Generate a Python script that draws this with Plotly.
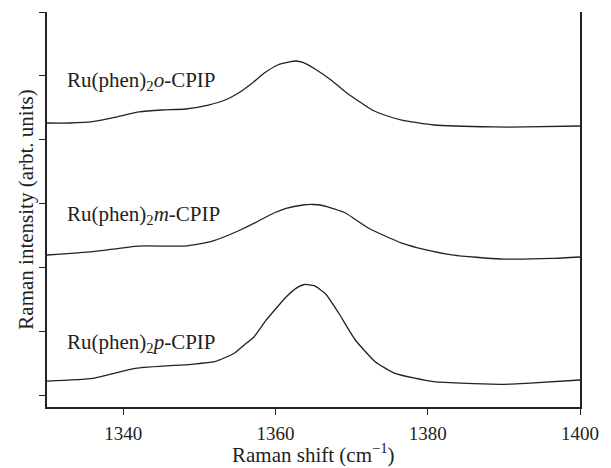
import plotly.graph_objects as go

# Raman shift (cm^-1) and intensities (arbitrary units, stacked)
x_o = [1330.0, 1333.0, 1336.0, 1339.1, 1342.1, 1345.1, 1348.2, 1351.2, 1353.4, 1355.1,
       1356.8, 1358.5, 1360.3, 1362.0, 1362.7, 1363.6, 1365.4, 1367.3, 1369.2, 1370.9,
       1372.7, 1374.7, 1376.6, 1380.8, 1388.6, 1392.9, 1400.0]
y_o = [4.263, 4.263, 4.284, 4.357, 4.436, 4.467, 4.483, 4.545, 4.624, 4.729,
       4.875, 5.042, 5.172, 5.224, 5.235, 5.212, 5.094, 4.937, 4.749, 4.608,
       4.467, 4.373, 4.310, 4.232, 4.201, 4.201, 4.216]

x_m = [1330.0, 1336.0, 1342.0, 1348.1, 1351.5, 1355.4, 1357.6, 1359.8, 1361.4, 1363.6,
       1364.9, 1366.2, 1369.2, 1370.5, 1372.2, 1374.4, 1376.6, 1379.5, 1383.4, 1389.5,
       1396.4, 1400.0]
y_m = [2.194, 2.246, 2.335, 2.335, 2.403, 2.586, 2.716, 2.853, 2.926, 2.978,
       2.986, 2.970, 2.853, 2.751, 2.618, 2.492, 2.382, 2.284, 2.194, 2.132,
       2.140, 2.163]

x_p = [1330.0, 1336.0, 1341.6, 1348.9, 1352.0, 1354.6, 1355.9, 1357.2, 1358.8, 1360.1,
       1361.4, 1362.7, 1363.8, 1365.1, 1366.6, 1368.3, 1370.5, 1373.1, 1375.7, 1380.8,
       1389.5, 1392.9, 1400.0]
y_p = [0.219, 0.262, 0.418, 0.481, 0.522, 0.654, 0.784, 0.914, 1.176, 1.359,
       1.536, 1.672, 1.732, 1.713, 1.583, 1.285, 0.862, 0.522, 0.340, 0.208,
       0.168, 0.183, 0.235]

labels = ["Ru(phen)<sub>2</sub><i>o</i>-CPIP",
          "Ru(phen)<sub>2</sub><i>m</i>-CPIP",
          "Ru(phen)<sub>2</sub><i>p</i>-CPIP"]
label_y = [4.92, 2.82, 0.81]

x_ticks = [1340, 1360, 1380, 1400]
y_ticks = [0, 1, 2, 3, 4, 5, 6]

x_title = "Raman shift (cm<sup>−1</sup>)"
y_title = "Raman intensity (arbt. units)"

FONT = "Liberation Serif"
INK = "#222222"

fig = go.Figure()
for xs, ys in [(x_o, y_o), (x_m, y_m), (x_p, y_p)]:
    fig.add_trace(go.Scatter(x=xs, y=ys, mode="lines",
                             line=dict(color=INK, width=1.3, shape="spline", smoothing=0.5),
                             showlegend=False, hoverinfo="skip"))

for txt, yy in zip(labels, label_y):
    fig.add_annotation(x=1332.3, y=yy, xref="x", yref="y", text=txt, showarrow=False,
                       xanchor="left", yanchor="middle",
                       font=dict(family=FONT, size=21, color=INK))

# x-axis title placed as an annotation for precise vertical placement
fig.add_annotation(x=0.5, y=-0.118, xref="paper", yref="paper", text=x_title,
                   showarrow=False, xanchor="center", yanchor="middle",
                   font=dict(family=FONT, size=21, color=INK))

fig.update_layout(
    width=611, height=468,
    margin=dict(l=47, r=23, t=12, b=61),
    paper_bgcolor="white", plot_bgcolor="white",
    font=dict(family=FONT, size=19, color=INK),
    xaxis=dict(range=[1330, 1400], tickvals=x_ticks, ticks="outside", ticklen=6,
               ticklabelstandoff=2,
               tickcolor=INK, showline=True, linecolor=INK, linewidth=1.5,
               showgrid=False, zeroline=False,
               tickfont=dict(family=FONT, size=19)),
    yaxis=dict(range=[-0.188, 6.003], tickvals=y_ticks, ticks="outside", ticklen=6,
               tickcolor=INK, showticklabels=False, showline=True,
               linecolor=INK, linewidth=1.5, mirror=True,
               showgrid=False, zeroline=False,
               title=dict(text=y_title, standoff=0,
                          font=dict(family=FONT, size=21))),
)

fig.write_html("out.html")
